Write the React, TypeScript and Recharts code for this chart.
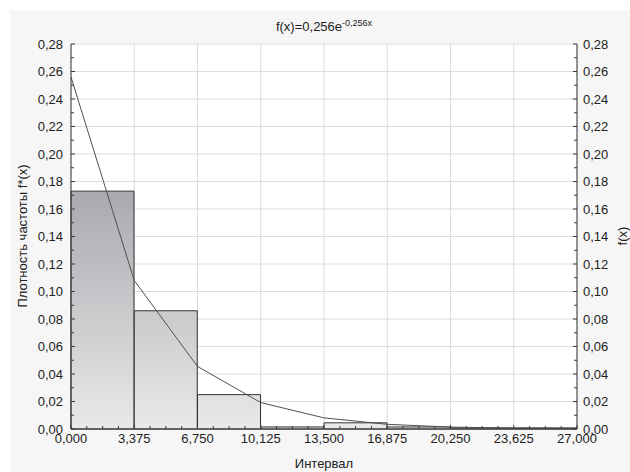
import React from 'react';
import { ComposedChart, Bar, Line, XAxis, YAxis, CartesianGrid } from 'recharts';

// histogram bins (width 3,375) and relative frequency density
const binLabels = ['0-3,375', '3,375-6,75', '6,75-10,125', '10,125-13,5', '13,5-16,875', '16,875-20,25', '20,25-23,625', '23,625-27'];
const density = [0.173, 0.086, 0.025, 0.0015, 0.0045, 0.0015, 0.0008, 0.0008];

// fitted exponential density at bin edges
const fitX = [0, 3.375, 6.75, 10.125, 13.5, 16.875, 20.25, 23.625, 27];
const fitY = [0.256, 0.108, 0.0455, 0.0192, 0.0081, 0.0034, 0.0014, 0.0006, 0.0003];

const xTicks = [0, 3.375, 6.75, 10.125, 13.5, 16.875, 20.25, 23.625, 27];
const yTicks = [0, 0.02, 0.04, 0.06, 0.08, 0.1, 0.12, 0.14, 0.16, 0.18, 0.2, 0.22, 0.24, 0.26, 0.28];

const barData = binLabels.map((bin, i) => ({ bin, density: density[i] }));
const fitData = fitX.map((x, i) => ({ x, f: fitY[i] }));

// minor ticks: 4 steps per x interval, 2 per y interval
const xAllTicks: number[] = [];
xTicks.forEach((t, i) => {
  xAllTicks.push(t);
  if (i < xTicks.length - 1) {
    const step = (xTicks[i + 1] - t) / 4;
    for (let k = 1; k < 4; k++) xAllTicks.push(t + step * k);
  }
});
const yAllTicks: number[] = [];
yTicks.forEach((t, i) => {
  yAllTicks.push(t);
  if (i < yTicks.length - 1) yAllTicks.push((t + yTicks[i + 1]) / 2);
});

const isMajor = (v: number, majors: number[]) => majors.some((m) => Math.abs(m - v) < 1e-6);
const fmt = (v: number, d: number) => v.toFixed(d).replace('.', ',');

const AXIS = '#3a3a3a';
const TXT = '#222';

const BottomTick = (props: any) => {
  const { x, y, payload } = props;
  const major = isMajor(payload.value, xTicks);
  return (
    <g>
      <line x1={x} y1={y} x2={x} y2={y - (major ? 4 : 3)} stroke={AXIS} />
      {major && (
        <text x={x} y={y + 13.5} textAnchor='middle' fill={TXT} fontSize={13}>
          {fmt(payload.value, 3)}
        </text>
      )}
    </g>
  );
};

const TopTick = (props: any) => {
  const { x, y, payload } = props;
  const major = isMajor(payload.value, xTicks);
  return <line x1={x} y1={y} x2={x} y2={y + (major ? 4 : 3)} stroke={AXIS} />;
};

const LeftTick = (props: any) => {
  const { x, y, payload } = props;
  const major = isMajor(payload.value, yTicks);
  return (
    <g>
      <line x1={x} y1={y} x2={x + (major ? 4 : 3)} y2={y} stroke={AXIS} />
      {major && (
        <text x={x - 8} y={y + 4.5} textAnchor='end' fill={TXT} fontSize={13}>
          {fmt(payload.value, 2)}
        </text>
      )}
    </g>
  );
};

const RightTick = (props: any) => {
  const { x, y, payload } = props;
  const major = isMajor(payload.value, yTicks);
  return (
    <g>
      <line x1={x} y1={y} x2={x - (major ? 4 : 3)} y2={y} stroke={AXIS} />
      {major && (
        <text x={x + 6} y={y + 4.5} textAnchor='start' fill={TXT} fontSize={13}>
          {fmt(payload.value, 2)}
        </text>
      )}
    </g>
  );
};

export default function App() {
  return (
    <div
      style={{
        position: 'absolute',
        left: 0,
        top: 0,
        width: 630,
        height: 472,
        background: '#fff',
        fontFamily: '"Liberation Sans", Arial, sans-serif',
        color: TXT,
      }}>
      <div style={{ position: 'absolute', left: 10, top: 10, width: 620, height: 462, background: '#f6f6f6' }} />
      <div style={{ position: 'absolute', left: 0, top: 0 }}>
        <ComposedChart
          width={630}
          height={472}
          data={barData}
          barCategoryGap={0}
          barGap={0}
          margin={{ top: 44, right: 0, bottom: 0, left: 0 }}>
          <defs>
            <linearGradient id='histFill' gradientUnits='userSpaceOnUse' x1='0' y1='44' x2='0' y2='429'>
              <stop offset='0%' stopColor='#80838a' />
              <stop offset='100%' stopColor='#e9e9e9' />
            </linearGradient>
          </defs>
          <CartesianGrid
            xAxisId='num'
            yAxisId='left'
            stroke='#dcdcdc'
            fill='#fff'
            verticalValues={xTicks}
            horizontalValues={yTicks}
          />
          <XAxis
            xAxisId='num'
            dataKey='x'
            type='number'
            domain={[0, 27]}
            ticks={xAllTicks}
            interval={0}
            height={43}
            tickSize={0}
            tickMargin={0}
            tickLine={false}
            axisLine={{ stroke: AXIS }}
            tick={BottomTick}
          />
          <XAxis xAxisId='cat' dataKey='bin' type='category' height={0} hide />
          <XAxis
            xAxisId='top'
            orientation='top'
            type='number'
            domain={[0, 27]}
            ticks={xAllTicks}
            interval={0}
            height={0}
            tickSize={0}
            tickMargin={0}
            tickLine={false}
            axisLine={{ stroke: AXIS }}
            tick={TopTick}
          />
          <YAxis
            yAxisId='left'
            type='number'
            domain={[0, 0.28]}
            ticks={yAllTicks}
            interval={0}
            width={71}
            tickSize={0}
            tickMargin={0}
            tickLine={false}
            axisLine={{ stroke: AXIS }}
            tick={LeftTick}
          />
          <YAxis
            yAxisId='right'
            orientation='right'
            type='number'
            domain={[0, 0.28]}
            ticks={yAllTicks}
            interval={0}
            width={53}
            tickSize={0}
            tickMargin={0}
            tickLine={false}
            axisLine={{ stroke: AXIS }}
            tick={RightTick}
          />
          <Bar
            xAxisId='cat'
            yAxisId='left'
            dataKey='density'
            fill='url(#histFill)'
            stroke='#333'
            strokeWidth={1}
            isAnimationActive={false}
          />
          <Line
            xAxisId='num'
            yAxisId='right'
            data={fitData}
            dataKey='f'
            type='linear'
            stroke='#505050'
            strokeWidth={1}
            dot={false}
            isAnimationActive={false}
          />
        </ComposedChart>
      </div>
      <div
        style={{
          position: 'absolute',
          left: 324,
          top: 19,
          transform: 'translateX(-50%)',
          fontSize: 13,
          lineHeight: '15px',
          whiteSpace: 'nowrap',
        }}>
        f(x)=0,256e<sup style={{ fontSize: 9, verticalAlign: 'top', position: 'relative', top: -3 }}>-0,256x</sup>
      </div>
      <div
        style={{
          position: 'absolute',
          left: 22,
          top: 236,
          transform: 'translate(-50%, -50%) rotate(-90deg)',
          fontSize: 13,
          whiteSpace: 'nowrap',
        }}>
        Плотность частоты f*(x)
      </div>
      <div
        style={{
          position: 'absolute',
          left: 622,
          top: 236,
          transform: 'translate(-50%, -50%) rotate(-90deg)',
          fontSize: 13,
          whiteSpace: 'nowrap',
        }}>
        f(x)
      </div>
      <div
        style={{
          position: 'absolute',
          left: 324,
          top: 463,
          transform: 'translate(-50%, -50%)',
          fontSize: 13,
          whiteSpace: 'nowrap',
        }}>
        Интервал
      </div>
    </div>
  );
}
